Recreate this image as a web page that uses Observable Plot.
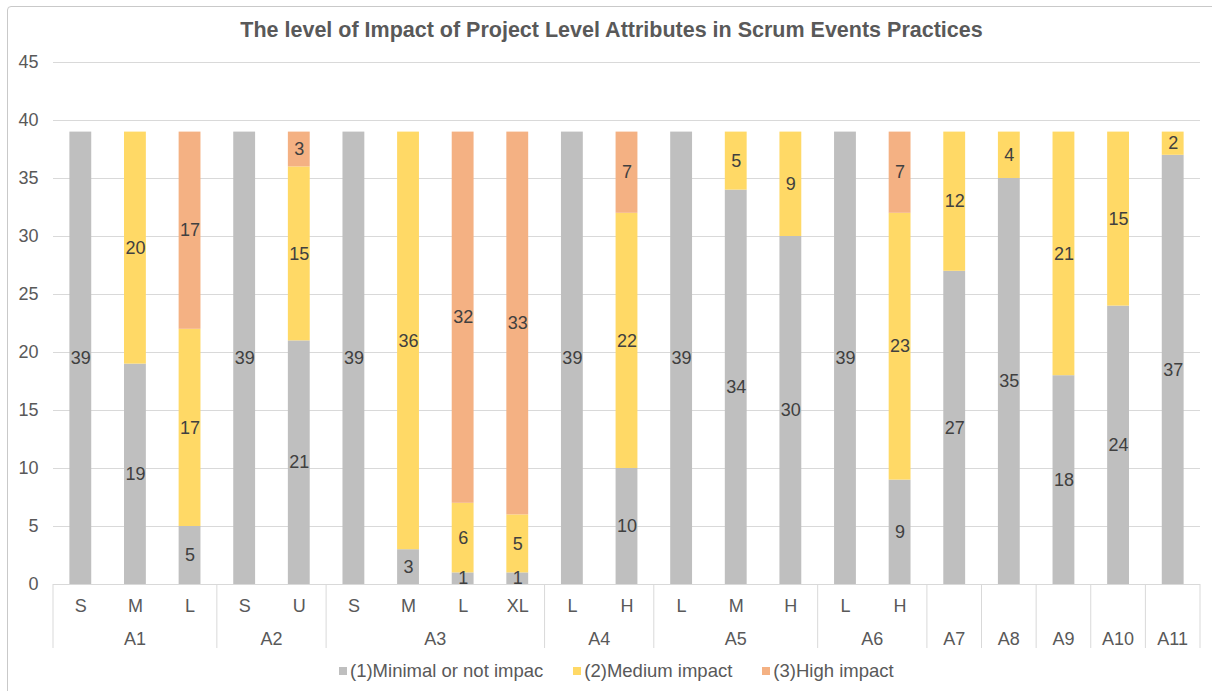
<!DOCTYPE html>
<html>
<head>
<meta charset="utf-8">
<script src="https://cdn.jsdelivr.net/npm/d3@7"></script>
<script src="https://cdn.jsdelivr.net/npm/@observablehq/plot@0.6"></script>
<style>
  html, body { margin: 0; padding: 0; background: #fff; }
  #wrap { position: relative; width: 1212px; height: 691px; overflow: hidden; font-family: "Liberation Sans", Arial, sans-serif; }
  #border { position: absolute; left: 7px; top: 6px; width: 1230px; height: 720px; border: 1px solid #c9c9c9; border-radius: 4px; box-sizing: border-box; }
  #title { position: absolute; left: 0; top: 18px; width: 1223px; text-align: center; font-weight: bold; font-size: 21.5px; color: #595959; }
  #chart { position: absolute; left: 0; top: 0; }
  #legend { position: absolute; left: 339px; top: 660px; display: flex; align-items: center; font-size: 18.5px; color: #595959; }
  .item { display: flex; align-items: center; margin-right: 30px; }
  .sw { width: 8px; height: 8px; margin-right: 3px; }
</style>
</head>
<body>
<div id="wrap">
  <div id="border"></div>
  <div id="chart"></div>
  <div id="title">The level of Impact of Project Level Attributes in Scrum Events Practices</div>
  <div id="legend"></div>
</div>
<script>
const groups = ["A1","A1","A1","A2","A2","A3","A3","A3","A3","A4","A4","A5","A5","A5","A6","A6","A7","A8","A9","A10","A11"];
const subs   = ["S","M","L","S","U","S","M","L","XL","L","H","L","M","H","L","H","","","","",""];
const minimal = [39,19,5,39,21,39,3,1,1,39,10,39,34,30,39,9,27,35,18,24,37];
const medium  = [0,20,17,0,15,0,36,6,5,0,22,0,5,9,0,23,12,4,21,15,2];
const high    = [0,0,17,0,3,0,0,32,33,0,7,0,0,0,0,7,0,0,0,0,0];
const seriesNames = ["(1)Minimal or not impac","(2)Medium impact","(3)High impact"];
const seriesColors = ["#BFBFBF","#FFD966","#F4B183"];
const yTicks = [0,5,10,15,20,25,30,35,40,45];

const keys = groups.map((g, i) => g + "-" + subs[i]);
const subOf = Object.fromEntries(keys.map((k, i) => [k, subs[i]]));
const seriesValues = [minimal, medium, high];
const rows = [];
keys.forEach((k, i) => {
  seriesValues.forEach((vals, s) => {
    if (vals[i] > 0) rows.push({key: k, series: seriesNames[s], value: vals[i]});
  });
});

const chart = Plot.plot({
  width: 1212,
  height: 691,
  marginLeft: 53,
  marginRight: 12,
  marginTop: 62,
  marginBottom: 107,
  style: {fontFamily: "'Liberation Sans', Arial, sans-serif", fontSize: "18px", color: "#595959", background: "transparent"},
  x: {type: "band", domain: keys, paddingInner: 0.6, paddingOuter: 0.3, round: false, axis: null},
  y: {domain: [0, 45], axis: null},
  color: {domain: seriesNames, range: seriesColors},
  marks: [
    Plot.gridY(yTicks, {stroke: "#d9d9d9", strokeOpacity: 1}),
    Plot.axisY(yTicks, {tickSize: 0, tickPadding: 15, fontSize: 18, label: null}),
    Plot.barY(rows, {x: "key", y: "value", fill: "series"}),
    Plot.ruleY([0], {stroke: "#d9d9d9"}),
    Plot.text(rows, Plot.stackY({x: "key", y: "value", z: "series", text: "value", fill: "#404040", fontSize: 18})),
    Plot.axisX({tickFormat: k => subOf[k], tickSize: 0, tickPadding: 15, fontSize: 18, label: null})
  ]
});
document.getElementById("chart").appendChild(chart);

// two-level category axis: group separators and group labels
const xs = chart.scale("x");
const ys = chart.scale("y");
const step = xs.step, bw = xs.bandwidth;
const cellStart = k => xs.apply(k) - (step - bw) / 2;
const y0 = ys.apply(0);
const groupNames = [...new Set(groups)];
const svg = d3.select(chart);
const g = svg.append("g");
const bounds = [];
groupNames.forEach(name => {
  const ks = keys.filter((k, i) => groups[i] === name);
  const a = cellStart(ks[0]);
  const b = cellStart(ks[ks.length - 1]) + step;
  bounds.push(a);
  g.append("text")
    .attr("x", (a + b) / 2)
    .attr("y", y0 + 61)
    .attr("text-anchor", "middle")
    .attr("fill", "#595959")
    .attr("font-size", 18)
    .text(name);
});
bounds.push(cellStart(keys[keys.length - 1]) + step);
bounds.forEach(x => {
  g.append("line")
    .attr("x1", x).attr("x2", x)
    .attr("y1", y0).attr("y2", y0 + 64)
    .attr("stroke", "#d9d9d9");
});

// legend
const legend = d3.select("#legend");
seriesNames.forEach((n, i) => {
  const it = legend.append("div").attr("class", "item");
  it.append("div").attr("class", "sw").style("background", seriesColors[i]);
  it.append("span").text(n);
});
</script>
</body>
</html>
